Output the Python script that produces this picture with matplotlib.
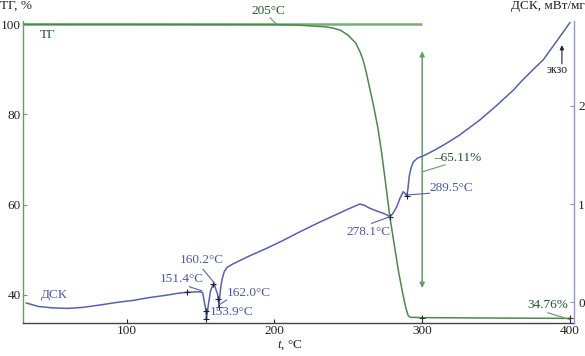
import matplotlib
matplotlib.use("Agg")
import matplotlib.pyplot as plt

plt.rcParams['font.family'] = ['Liberation Serif', 'DejaVu Serif']
plt.rcParams['mathtext.fontset'] = 'custom'
plt.rcParams['mathtext.it'] = 'Liberation Serif:italic'
plt.rcParams['mathtext.rm'] = 'Liberation Serif'

# ---- data ----
tg_t = [30, 100, 200, 215, 225, 235, 240, 245, 250, 255, 258, 260, 262, 264, 267, 270,
        272.5, 275, 278, 281, 284, 287, 289, 290.5, 292, 300, 340, 400]
tg_v = [99.95, 99.95, 99.9, 99.8, 99.6, 99.4, 99.1, 98.6, 97.5, 95.8, 93.8, 92.0, 89.5,
        86.5, 82.0, 77.0, 71.6, 65.3, 57.5, 51.3, 45.1, 40.0, 37.0, 35.4, 35.0, 34.93,
        34.85, 34.76]
tg_ref_t = [30, 300]
tg_ref_v = [100, 100]

dsc_t = [32, 40, 50, 60, 70, 82, 95, 104.5, 115, 127, 135, 141, 146, 149.6, 151.4, 152.5,
         153.3, 153.65, 153.9, 154.6, 155.5, 156.8, 158.6, 159.5, 160.5, 161.3, 162.0, 162.4,
         162.9, 163.6, 164.5, 166.0, 168, 172, 183, 195, 206, 217, 228.5, 240, 251, 257.8,
         261, 264.6, 269, 273.6, 276, 278.1, 280, 282.7, 285, 287.1, 288.3, 289.5, 290.3,
         291.2, 292.5, 294, 297, 300.7, 309.7, 316.5, 325, 339, 350, 361.6, 368.3, 375,
         381.9, 391, 400]
dsc_v = [-0.01, -0.045, -0.06, -0.065, -0.055, -0.03, 0.0, 0.017, 0.045, 0.07, 0.09, 0.10,
         0.103, 0.105, 0.095, 0.0, -0.06, -0.089, -0.177, -0.10, 0.0, 0.12, 0.18, 0.17, 0.12,
         0.09, 0.028, -0.048, 0.05, 0.15, 0.23, 0.31, 0.355, 0.39, 0.47, 0.55, 0.63, 0.715,
         0.80, 0.88, 0.956, 1.0, 0.985, 0.956, 0.93, 0.905, 0.89, 0.87, 0.9, 0.97, 1.06,
         1.125, 1.11, 1.08, 1.15, 1.28, 1.37, 1.43, 1.47, 1.49, 1.56, 1.62, 1.70, 1.857, 2.0,
         2.16, 2.27, 2.37, 2.47, 2.66, 2.85]

dsc_mark_t = [141, 153.65, 153.9, 158.6, 162.0, 162.4, 278.1, 289.5]
dsc_mark_v = [0.10, -0.089, -0.177, 0.18, 0.028, -0.048, 0.87, 1.08]
tg_mark_t = [300, 400]
tg_mark_v = [34.93, 34.76]

x_ticks = [100, 200, 300, 400]
tg_ticks = [40, 60, 80, 100]
dsc_ticks = [0, 1, 2]

# ---- colours ----
c_tg = '#5f9f5f'
c_tg_dark = '#1f5a2c'
c_dsc = '#5560b8'
c_dsc_txt = '#4a56b4'
FS = 9.5

fig = plt.figure(figsize=(5.85, 3.56), dpi=100)
ax = fig.add_axes([0.040, 0.0935, 0.941, 0.8475])
ax2 = ax.twinx()

ax.set_xlim(30, 402.7)
ax.set_ylim(33.8, 100.7)
ax2.set_ylim(-0.211, 2.867)

# TG
ax.plot(tg_ref_t, tg_ref_v, color=c_tg, lw=1.8, alpha=0.85, solid_capstyle='butt')
ax.plot(tg_t, tg_v, color='#4a8a4a', lw=1.1)
ax.plot(tg_mark_t, tg_mark_v, linestyle='none', marker='+', color='#333333', ms=5, mew=0.8)
ax.annotate('', xy=(300, 94.0), xytext=(300, 41.5),
            arrowprops=dict(arrowstyle='<|-|>', color=c_tg, lw=1.1, mutation_scale=7,
                            shrinkA=0, shrinkB=0))

# DSC
ax2.plot(dsc_t, dsc_v, color=c_dsc, lw=1.1)
ax2.plot(dsc_mark_t, dsc_mark_v, linestyle='none', marker='+', color='#222222', ms=5, mew=0.8)

# spines
ax.spines['top'].set_visible(False)
ax2.spines['top'].set_visible(False)
ax.spines['right'].set_visible(False)
ax2.spines['left'].set_visible(False)
ax2.spines['bottom'].set_visible(False)
ax.spines['left'].set_color(c_tg)
ax.spines['bottom'].set_color('#444444')
ax2.spines['right'].set_color('#8f97d8')
for sp in [ax.spines['left'], ax.spines['bottom'], ax2.spines['right']]:
    sp.set_linewidth(1.0)

ax.set_xticks(x_ticks)
ax.set_yticks(tg_ticks)
ax2.set_yticks(dsc_ticks)
ax.tick_params(axis='both', direction='in', length=3, width=0.8, labelsize=FS,
               colors='#222222', pad=2)
ax.tick_params(axis='y', color=c_tg)
ax2.tick_params(axis='y', direction='in', length=3, width=0.8, labelsize=FS,
                colors='#222222', color='#8f97d8', pad=3)

# axis titles
fig.text(0.0, 0.983, 'ТГ, %', fontsize=FS, ha='left', va='center', color='#222222')
fig.text(0.999, 0.983, 'ДСК, мВт/мг', fontsize=FS, ha='right', va='center', color='#222222')
fig.text(0.496, 0.030, '$t$, °C', fontsize=FS, ha='center', va='center', color='#222222')

# labels on TG
ax.text(46.3, 97.6, 'ТГ', fontsize=FS, color=c_tg_dark, ha='center', va='center')
ax.text(195.6, 103.0, '205°C', fontsize=FS, color=c_tg_dark, ha='center', va='center',
        clip_on=False)
ax.plot([197, 201.7], [101.4, 99.9], color=c_tg, lw=0.8, clip_on=False)
ax.text(308.3, 70.3, '–65.11%', fontsize=FS, color=c_tg_dark, ha='left', va='center')
ax.plot([300.5, 315.4], [67.3, 68.8], color=c_tg, lw=0.8)
ax.text(398.6, 37.7, '34.76%', fontsize=FS, color=c_tg_dark, ha='right', va='center')
ax.plot([385.1, 400], [36.0, 34.5], color=c_tg, lw=0.8)

# labels on DSC
ax2.text(50.8, 0.071, 'ДСК', fontsize=FS, color=c_dsc_txt, ha='center', va='center')
ax2.text(137.5, 0.232, '151.4°C', fontsize=FS, color=c_dsc_txt, ha='center', va='center')
ax2.plot([142.4, 150.7], [0.156, 0.115], color=c_dsc, lw=0.8)
ax2.text(151.1, 0.43, '160.2°C', fontsize=FS, color=c_dsc_txt, ha='center', va='center')
ax2.plot([151.6, 159.5], [0.334, 0.19], color=c_dsc, lw=0.8)
ax2.text(167.7, 0.089, '162.0°C', fontsize=FS, color=c_dsc_txt, ha='left', va='center')
ax2.plot([162.4, 167.5], [-0.03, 0.02], color=c_dsc, lw=0.8)
ax2.text(156.4, -0.099, '153.9°C', fontsize=FS, color=c_dsc_txt, ha='left', va='center')
ax2.text(263.5, 0.717, '278.1°C', fontsize=FS, color=c_dsc_txt, ha='center', va='center')
ax2.plot([265.8, 278.1], [0.803, 0.87], color=c_dsc, lw=0.8)
ax2.text(305.2, 1.163, '289.5°C', fontsize=FS, color=c_dsc_txt, ha='left', va='center')
ax2.plot([289.6, 305.0], [1.092, 1.11], color=c_dsc, lw=0.8)

ax2.text(391.7, 2.367, 'экзо', fontsize=FS - 1, color='#222222', ha='center', va='center')
ax2.annotate('', xy=(394.6, 2.62), xytext=(394.6, 2.43),
             arrowprops=dict(arrowstyle='-|>', color='#222222', lw=0.8, mutation_scale=6,
                             shrinkA=0, shrinkB=0))

fig.savefig('out.png', dpi=100)
